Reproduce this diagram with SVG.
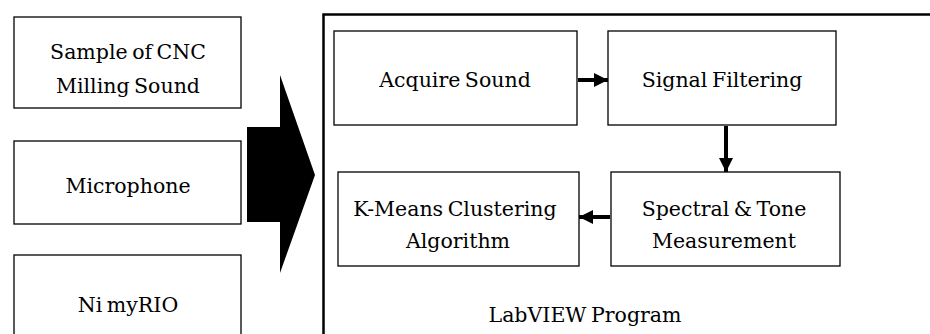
<svg xmlns="http://www.w3.org/2000/svg" width="930" height="334" viewBox="0 0 930 334">
<defs>
<style>
.box{fill:#fff;stroke:#000;stroke-width:1.3}
.t{font-family:"DejaVu Serif","Liberation Serif",serif;font-size:20.5px;fill:#000;text-anchor:middle;word-spacing:-2px}
.c{stroke:#000;stroke-width:4;fill:none}
</style>
<marker id="ah" markerUnits="userSpaceOnUse" markerWidth="14" markerHeight="14" refX="14" refY="7" orient="auto">
<path d="M0,0 L14,7 L0,14 Z" fill="#000"/>
</marker>
</defs>
<rect width="930" height="334" fill="#fff"/>
<g id="sample">
<rect class="box" x="14" y="17" width="227" height="91"/>
<text class="t" x="128" y="59">Sample of CNC</text>
<text class="t" x="128" y="93">Milling Sound</text>
</g>
<g id="microphone">
<rect class="box" x="14" y="141" width="227" height="83"/>
<text class="t" x="128" y="193">Microphone</text>
</g>
<g id="myrio">
<rect class="box" x="14" y="255" width="227" height="90"/>
<text class="t" x="128" y="312">Ni myRIO</text>
</g>
<g id="big-arrow">
<polygon points="247,127 280,127 280,75 315,175 280,273 280,222 247,222" fill="#000"/>
</g>
<g id="labview">
<rect x="323.5" y="14.5" width="620" height="340" fill="#fff" stroke="#000" stroke-width="2.5"/>
<text class="t" x="585" y="322">LabVIEW Program</text>
</g>
<g id="acquire">
<rect class="box" x="334" y="31" width="243" height="94"/>
<text class="t" x="455" y="87">Acquire Sound</text>
</g>
<g id="filtering">
<rect class="box" x="608" y="31" width="228" height="94"/>
<text class="t" x="722" y="87">Signal Filtering</text>
</g>
<g id="kmeans">
<rect class="box" x="338" y="172" width="241" height="94"/>
<text class="t" x="455" y="216">K-Means Clustering</text>
<text class="t" x="458" y="248">Algorithm</text>
</g>
<g id="spectral">
<rect class="box" x="611" y="172" width="229" height="94"/>
<text class="t" x="724" y="216">Spectral &amp; Tone</text>
<text class="t" x="724" y="248">Measurement</text>
</g>
<g id="connectors">
<line class="c" x1="578" y1="80" x2="608" y2="80" marker-end="url(#ah)"/>
<line class="c" x1="726" y1="126" x2="726" y2="172" marker-end="url(#ah)"/>
<line class="c" x1="610" y1="217" x2="579" y2="217" marker-end="url(#ah)"/>
</g>
</svg>
